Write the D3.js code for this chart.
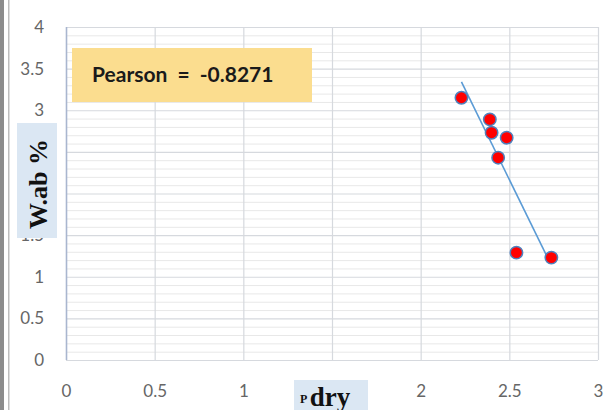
<!DOCTYPE html>
<html>
<head>
<meta charset="utf-8">
<script src="https://cdn.jsdelivr.net/npm/d3@7"></script>
<style>
  body { margin: 0; background: #fff; }
  svg { display: block; }
</style>
</head>
<body>
<div id="chart"></div>
<script>
// density (dry) vs water absorption
const pDry = [2.23, 2.39, 2.40, 2.485, 2.437, 2.54, 2.737]
const wAb = [3.15, 2.89, 2.73, 2.67, 2.43, 1.29, 1.23]
const xTicks = [0, 0.5, 1, 1.5, 2, 2.5, 3]
const yTicks = [0, 0.5, 1, 1.5, 2, 2.5, 3, 3.5, 4]
const pearsonText = 'Pearson = -0.8271'

const width = 604, height = 410
const margin = {top: 27, right: 6, bottom: 50, left: 66}

const svg = d3.select('#chart').append('svg')
  .attr('width', width)
  .attr('height', height)

// outer frame bits on the left edge
svg.append('rect').attr('x', 0).attr('y', 0).attr('width', 4).attr('height', height).attr('fill', '#8c8c8c')
svg.append('rect').attr('x', 8).attr('y', 0).attr('width', 1.5).attr('height', height).attr('fill', '#bdbdbd')

const x = d3.scaleLinear().domain([0, 3]).range([margin.left, width - margin.right])
const y = d3.scaleLinear().domain([0, 4]).range([height - margin.bottom, margin.top])

// minor horizontal grid
const minor = d3.range(0, 40).map(d => d / 10).filter(d => Math.round(d * 10) % 5 != 0)
svg.append('g').selectAll('line')
  .data(minor)
  .enter().append('line')
  .attr('x1', x(0)).attr('x2', x(3))
  .attr('y1', d => y(d) + 0.5).attr('y2', d => y(d) + 0.5)
  .attr('stroke', '#e8e8e8').attr('stroke-width', 1)

// major grid
svg.append('g').selectAll('line')
  .data(yTicks)
  .enter().append('line')
  .attr('x1', x(0)).attr('x2', x(3))
  .attr('y1', d => y(d) + 0.5).attr('y2', d => y(d) + 0.5)
  .attr('stroke', '#d6d9de').attr('stroke-width', 1.2)

svg.append('g').selectAll('line')
  .data(xTicks)
  .enter().append('line')
  .attr('y1', y(0)).attr('y2', y(4))
  .attr('x1', d => x(d) + 0.5).attr('x2', d => x(d) + 0.5)
  .attr('stroke', d => d == 0 ? '#a9b6cf' : '#d6d9de').attr('stroke-width', d => d == 0 ? 1.6 : 1.2)

// axes labels via d3 axes
const yAxis = g => g
  .attr('transform', `translate(${margin.left - 22},0)`)
  .call(d3.axisLeft(y).tickValues(yTicks).tickSize(0).tickPadding(0).tickFormat(d3.format('')))
  .call(g => g.select('.domain').remove())

const xAxis = g => g
  .attr('transform', `translate(0,${height - margin.bottom + 25})`)
  .call(d3.axisBottom(x).tickValues(xTicks).tickSize(0).tickPadding(0).tickFormat(d3.format('')))
  .call(g => g.select('.domain').remove())

svg.append('g').call(yAxis)
svg.append('g').call(xAxis)

svg.selectAll('.tick text')
  .attr('fill', '#666')
  .attr('font-family', 'Lato, "Open Sans", sans-serif')
  .attr('font-size', 17)

// trendline (least squares)
const mx = d3.mean(pDry), my = d3.mean(wAb)
let sxy = 0, sxx = 0
pDry.forEach(function(v, i){
  sxy += (v - mx) * (wAb[i] - my)
  sxx += (v - mx) * (v - mx)
})
const slope = sxy / sxx
const icpt = my - slope * mx
const x0 = d3.min(pDry), x1 = d3.max(pDry) - 0.02

svg.append('line')
  .attr('x1', x(x0)).attr('y1', y(icpt + slope * x0))
  .attr('x2', x(x1)).attr('y2', y(icpt + slope * x1))
  .attr('stroke', '#5b9bd5').attr('stroke-width', 1.6)

// points
svg.append('g').selectAll('circle')
  .data(pDry)
  .enter().append('circle')
  .attr('cx', d => x(d))
  .attr('cy', (d, i) => y(wAb[i]))
  .attr('r', 6.2)
  .attr('fill', '#ff0000')
  .attr('stroke', '#4f81bd')
  .attr('stroke-width', 1.5)

// pearson box
svg.append('rect')
  .attr('x', 72).attr('y', 48).attr('width', 240).attr('height', 54)
  .attr('fill', '#fbdd8f')
svg.append('text')
  .attr('x', 92).attr('y', 82)
  .attr('font-family', 'Lato, "Open Sans", sans-serif')
  .attr('font-weight', 'bold')
  .attr('font-size', 21)
  .attr('word-spacing', 5)
  .attr('fill', '#1a1a1a')
  .text(pearsonText)

// y title
svg.append('rect')
  .attr('x', 17).attr('y', 123).attr('width', 40).attr('height', 115)
  .attr('fill', '#dbe7f3')
svg.append('text')
  .attr('transform', 'translate(47,184) rotate(-90)')
  .attr('text-anchor', 'middle')
  .attr('font-family', '"Liberation Serif", "DejaVu Serif", serif')
  .attr('font-weight', 'bold')
  .attr('font-size', 26)
  .attr('fill', '#111')
  .text('W.ab %')

// x title
svg.append('rect')
  .attr('x', 294).attr('y', 380).attr('width', 74).attr('height', 30)
  .attr('fill', '#dbe7f3')
const xt = svg.append('text')
  .attr('x', 300).attr('y', 406)
  .attr('font-family', '"Liberation Serif", "DejaVu Serif", serif')
  .attr('font-weight', 'bold')
  .attr('fill', '#111')
xt.append('tspan').attr('font-size', 12).attr('dy', -3).text('P ')
xt.append('tspan').attr('font-size', 27).attr('dy', 3).text('dry')
</script>
</body>
</html>
